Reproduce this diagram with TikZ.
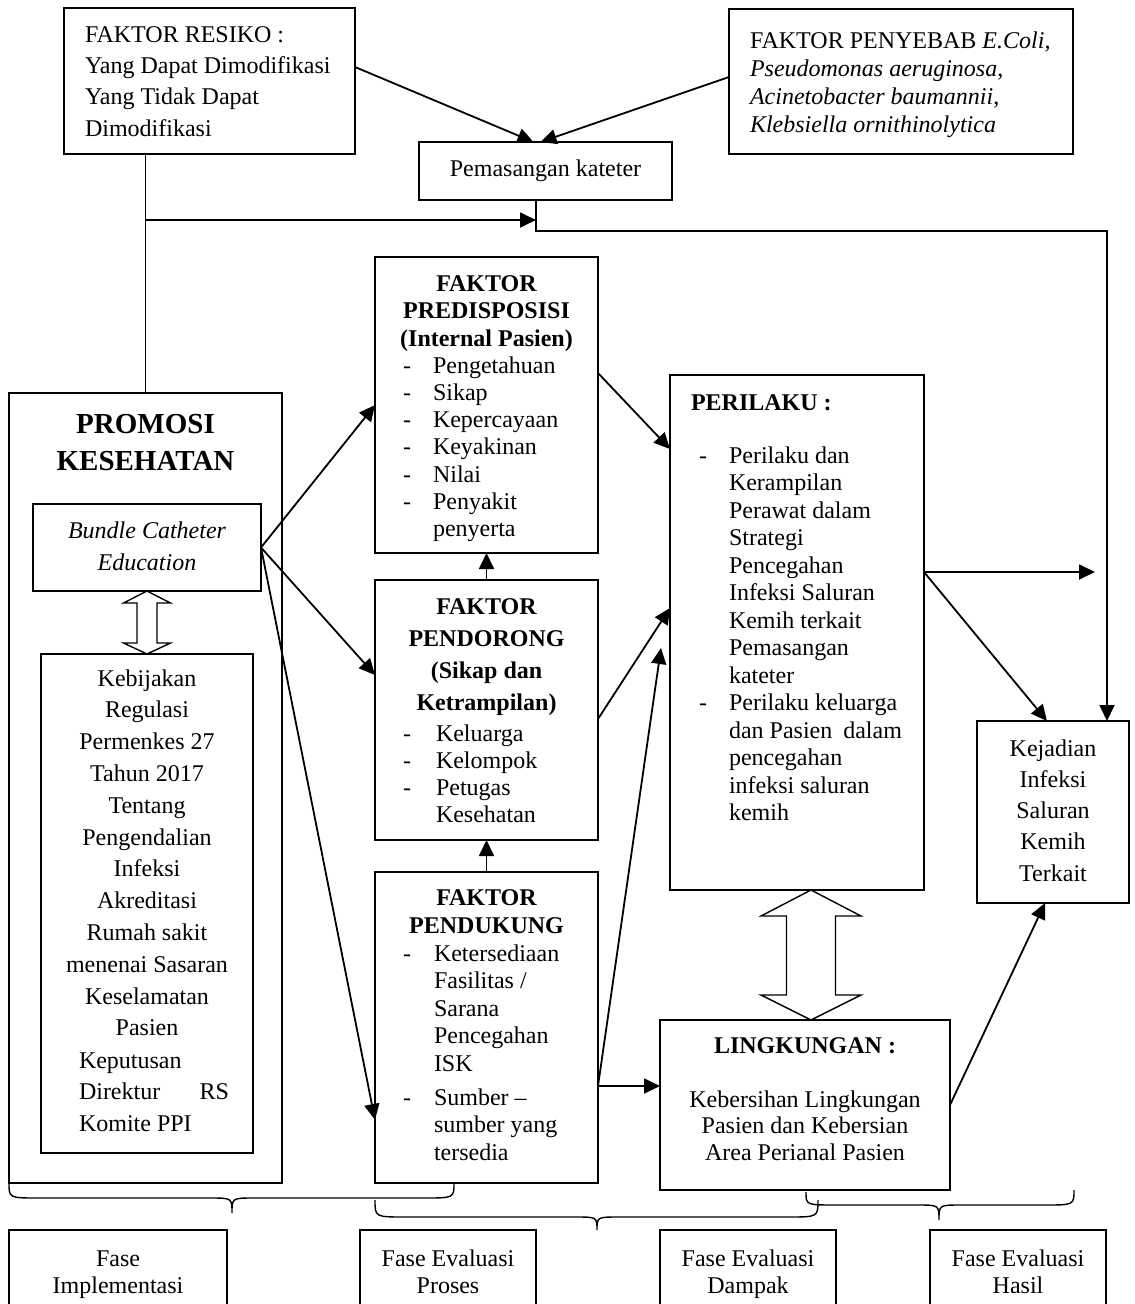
\documentclass[tikz,border=0pt]{standalone}
\usepackage{fontspec}
\setmainfont{Liberation Serif}
\usetikzlibrary{arrows.meta,calc}
\newcommand\fsz[2]{\fontsize{#1}{#2}\selectfont}
\newcommand\mkbox[5]{\node[bx, minimum width={(#4)-(#2)}, minimum height={(#5)-(#3)}] (#1) at ({((#2)+(#4))/2},{((#3)+(#5))/2}) {};}
\begin{document}
\begin{tikzpicture}[x=1pt,y=-1pt,
 bx/.style={draw, line width=1.4pt, rectangle, inner sep=0pt, outer sep=0pt},
 tx/.style={inner sep=0pt, outer sep=0pt},
 arr/.style={line width=1.8pt, -{Triangle[length=16pt,width=15pt]}},
 ln/.style={line width=1.6pt},
 brc/.style={line width=1.4pt},
 dbl/.style={line width=1.4pt, fill=white, line join=miter}]
\fill[white] (0,0) rectangle (1135,1304);
\useasboundingbox (0,0) rectangle (1135,1304);

% boxes
\mkbox{resiko}{64}{8}{355}{154}
\mkbox{penyebab}{729}{9}{1073}{154}
\node[bx, minimum width=253pt, minimum height=58pt, font=\fsz{24}{27.5}] (pemasangan) at (545.5,171) {Pemasangan kateter};
\mkbox{predis}{375}{257}{598}{553}
\mkbox{pendorong}{375}{580}{598}{840}
\mkbox{pendukung}{375}{872}{598}{1183}
\mkbox{perilaku}{670}{375}{924}{890}
\mkbox{kejadian}{977}{721}{1129}{903}
\mkbox{lingkungan}{660}{1020}{950}{1190}
\mkbox{promosi}{9}{393}{282}{1183}
\mkbox{bundle}{33}{504}{261}{591}
\mkbox{kebijakan}{41}{654}{253}{1153}
\mkbox{fase1}{9}{1230}{227}{1340}
\mkbox{fase2}{360}{1230}{536}{1340}
\mkbox{fase3}{660}{1230}{836}{1340}
\mkbox{fase4}{930}{1230}{1106}{1340}

% texts (anchor base = baseline of the last line)
\node[tx, anchor=base west, align=left, font=\fsz{24}{31.3}] (tResiko) at (85,136) {FAKTOR RESIKO :\\Yang Dapat Dimodifikasi\\Yang Tidak Dapat\\Dimodifikasi};
\node[tx, anchor=base west, align=left, font=\fsz{24}{28}] (tPenyebab) at (750,132) {FAKTOR PENYEBAB \textit{E.Coli,}\\\textit{Pseudomonas aeruginosa},\\\textit{Acinetobacter baumannii},\\\textit{Klebsiella ornithinolytica}};

\node[tx, anchor=base, align=center, font=\fsz{24}{27.5}\bfseries] (hPredis) at (486.5,346) {FAKTOR\\PREDISPOSISI\\(Internal Pasien)};
\node[tx, anchor=base west, align=left, font=\fsz{24}{27.3}] (dPredis) at (403,509.5) {-\\-\\-\\-\\-\\-};
\node[tx, anchor=base west, align=left, font=\fsz{24}{27.3}] (tPredis) at (433,536.8) {Pengetahuan\\Sikap\\Kepercayaan\\Keyakinan\\Nilai\\Penyakit\\penyerta};

\node[tx, anchor=base, align=center, font=\fsz{24}{32}\bfseries] (hPendorong) at (486.5,710) {FAKTOR\\PENDORONG\\(Sikap dan\\Ketrampilan)};
\node[tx, anchor=base west, align=left, font=\fsz{24}{27.3}] (dPendorong) at (403,795.6) {-\\-\\-};
\node[tx, anchor=base west, align=left, font=\fsz{24}{27.3}] (tPendorong) at (436,822.9) {Keluarga\\Kelompok\\Petugas\\Kesehatan};

\node[tx, anchor=base, align=center, font=\fsz{24}{28}\bfseries] (hPendukung) at (486.5,933) {FAKTOR\\PENDUKUNG};
\node[tx, anchor=base west, font=\fsz{24}{27.6}] (dPendukung1) at (403,961) {-};
\node[tx, anchor=base west, align=left, font=\fsz{24}{27.6}] (tPendukung1) at (434,1071.4) {Ketersediaan\\Fasilitas /\\Sarana\\Pencegahan\\ISK};
\node[tx, anchor=base west, font=\fsz{24}{27.6}] (dPendukung2) at (403,1105) {-};
\node[tx, anchor=base west, align=left, font=\fsz{24}{27.5}] (tPendukung2) at (434,1160) {Sumber –\\sumber yang\\tersedia};

\node[tx, anchor=base west, font=\fsz{24}{27.5}\bfseries] (hPerilaku) at (691,410) {PERILAKU :};
\node[tx, anchor=base west, font=\fsz{24}{27.5}] (dPerilaku1) at (699,463) {-};
\node[tx, anchor=base west, font=\fsz{24}{27.5}] (dPerilaku2) at (699,710.5) {-};
\node[tx, anchor=base west, align=left, font=\fsz{24}{27.5}] (tPerilaku) at (729,820.5) {Perilaku dan\\Kerampilan\\Perawat dalam\\Strategi\\Pencegahan\\Infeksi Saluran\\Kemih terkait\\Pemasangan\\kateter\\Perilaku keluarga\\dan Pasien\hspace{5pt} dalam\\pencegahan\\infeksi saluran\\kemih};

\node[tx, anchor=base, align=center, font=\fsz{24}{31.3}] (tKejadian) at (1053,881.2) {Kejadian\\Infeksi\\Saluran\\Kemih\\Terkait};

\node[tx, anchor=base, font=\fsz{24}{27.5}\bfseries] (hLingkungan) at (805,1053) {LINGKUNGAN :};
\node[tx, anchor=base, align=center, font=\fsz{24}{26.7}] (tLingkungan) at (805,1160.4) {Kebersihan Lingkungan\\Pasien dan Kebersian\\Area Perianal Pasien};

\node[tx, anchor=base, align=center, font=\fsz{29}{37}\bfseries] (tPromosi) at (145.5,470) {PROMOSI\\KESEHATAN};
\node[tx, anchor=base, align=center, font=\fsz{24}{32}\itshape] (tBundle) at (147,570) {Bundle Catheter\\Education};
\node[tx, anchor=base, align=center, font=\fsz{24}{31.8}] (tKebijakan) at (147,1035.8) {Kebijakan\\Regulasi\\Permenkes 27\\Tahun 2017\\Tentang\\Pengendalian\\Infeksi\\Akreditasi\\Rumah sakit\\menenai Sasaran\\Keselamatan\\Pasien};
\node[tx, anchor=base west, align=left, font=\fsz{24}{31.8}] (tKeputusan) at (79,1131.6) {Keputusan\\\makebox[150pt][s]{Direktur RS}\\Komite PPI};

\node[tx, anchor=base, align=center, font=\fsz{24}{27}] (tFase1) at (118,1293) {Fase\\Implementasi};
\node[tx, anchor=base, align=center, font=\fsz{24}{27}] (tFase2) at (448,1293) {Fase Evaluasi\\Proses};
\node[tx, anchor=base, align=center, font=\fsz{24}{27}] (tFase3) at (748,1293) {Fase Evaluasi\\Dampak};
\node[tx, anchor=base, align=center, font=\fsz{24}{27}] (tFase4) at (1018,1293) {Fase Evaluasi\\Hasil};

% connectors
\coordinate (pm) at ([xshift=-9.5pt]pemasangan.south);
\coordinate (c1) at (145.5,220);
\coordinate (c2) at (1107,231);
\draw[ln] (resiko.south -| promosi.north) -- (promosi.north);
\draw[arr] (c1) -- (c1 -| pm);
\draw[arr] (pm) |- (c2) -- (c2 |- kejadian.north);
\draw[arr] ([yshift=14pt]resiko.east) -- ([xshift=-12pt]pemasangan.north);
\draw[arr] ([yshift=4.5pt]penyebab.west) -- ([xshift=-5pt]pemasangan.north);
\draw[arr] (bundle.east) -- (predis.west);
\draw[arr] (bundle.east) -- ([yshift=35pt]pendorong.west);
\draw[arr] (bundle.east) -- ([yshift=-92.5pt]pendukung.west);
\draw[arr] ([yshift=32pt]predis.east) -- ([yshift=183.5pt]perilaku.west);
\draw[arr] ([yshift=-9pt]pendorong.east) -- ([yshift=24.5pt]perilaku.west);
\coordinate (pd) at ([yshift=-58.5pt]pendukung.east);
\draw[arr] (pd) -- ([xshift=-9pt,yshift=-15.5pt]perilaku.west);
\draw[arr] (pd) -- (pd -| lingkungan.west);
\draw[arr] (pendorong.north) -- (predis.south);
\draw[arr] (pendukung.north) -- (pendorong.south);
\coordinate (pr) at ([yshift=60.5pt]perilaku.east);
\coordinate (fr) at (1095,572);
\draw[arr] (pr) -- (fr);
\draw[arr] (pr) -- ([xshift=-6pt]kejadian.north);
\draw[arr] (lingkungan.east) -- ([xshift=-8pt]kejadian.south);

% open double arrows
\draw[dbl] (bundle.south) -- ++(23.5,12) -- ++(-13.5,0) -- ($(kebijakan.north)+(10,-11)$) -- ++(13.5,0) -- (kebijakan.north) -- ++(-23.5,-11) -- ++(13.5,0) -- ($(bundle.south)+(-10,12)$) -- ++(-13.5,0) -- cycle;
\coordinate (pa) at ($(perilaku.south)+(14,0)$);
\coordinate (pb) at (pa |- lingkungan.north);
\draw[dbl] (pa) -- ++(50,26) -- ++(-25.5,0) -- ($(pb)+(24.5,-25)$) -- ++(25.5,0) -- (pb) -- ++(-50,-25) -- ++(25.5,0) -- ($(pa)+(-24.5,26)$) -- ++(-25.5,0) -- cycle;

% braces
\draw[brc] (9,1183) .. controls (9,1198) .. (39,1198) -- (210,1198) .. controls (232,1198) .. (232,1213) .. controls (232,1198) .. (254,1198) -- (424,1198) .. controls (454,1198) .. (454,1183);
\draw[brc] (375,1200) .. controls (375,1217) .. (405,1217) -- (575,1217) .. controls (597,1217) .. (597,1230) .. controls (597,1217) .. (619,1217) -- (788,1217) .. controls (818,1217) .. (818,1200);
\draw[brc] (806,1192) .. controls (806,1205) .. (836,1205) -- (917,1205) .. controls (939,1205) .. (939,1220) .. controls (939,1205) .. (961,1205) -- (1044,1205) .. controls (1074,1205) .. (1074,1190);
\end{tikzpicture}
\end{document}
